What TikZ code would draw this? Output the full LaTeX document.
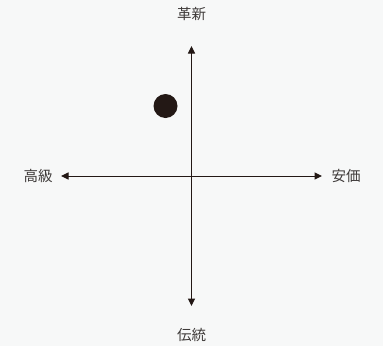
\documentclass[tikz,border=0pt]{standalone}
\usepackage{fontspec}
\newfontfamily\jpfont{Noto Sans CJK JP}
\usetikzlibrary{arrows.meta}
\definecolor{axiscol}{HTML}{231815}
\definecolor{textcol}{HTML}{3E3A39}
\definecolor{bgcol}{HTML}{F7F8F8}

\begin{document}
\begin{tikzpicture}[x=1pt, y=-1pt, >={Triangle[length=7.5pt, width=7pt]},
    axislabel/.style={font=\jpfont\fontsize{14.5}{15}\selectfont, text=textcol, inner sep=0pt}]
    % Background
    \fill[bgcol] (0,0) rectangle (383,346);
    \useasboundingbox (0,0) rectangle (383,346);

    % Axis ends
    \coordinate (T) at (191.5,46);
    \coordinate (B) at (191.5,306);
    \coordinate (L) at (61,176);
    \coordinate (R) at (322,176);

    % Axes
    \draw[<->, axiscol, line width=1pt] (L) -- (R);
    \draw[<->, axiscol, line width=1pt] (B) -- (T);

    % Labels
    \node[axislabel] (top) at (191.5,14) {革新};
    \node[axislabel] (bottom) at (191.5,335) {伝統};
    \node[axislabel] (left) at (38,175.5) {高級};
    \node[axislabel] (right) at (346,175.5) {安価};

    % Position
    \node[circle, fill=axiscol, minimum size=24pt, inner sep=0pt] (dot) at (165.5,106) {};
\end{tikzpicture}
\end{document}
